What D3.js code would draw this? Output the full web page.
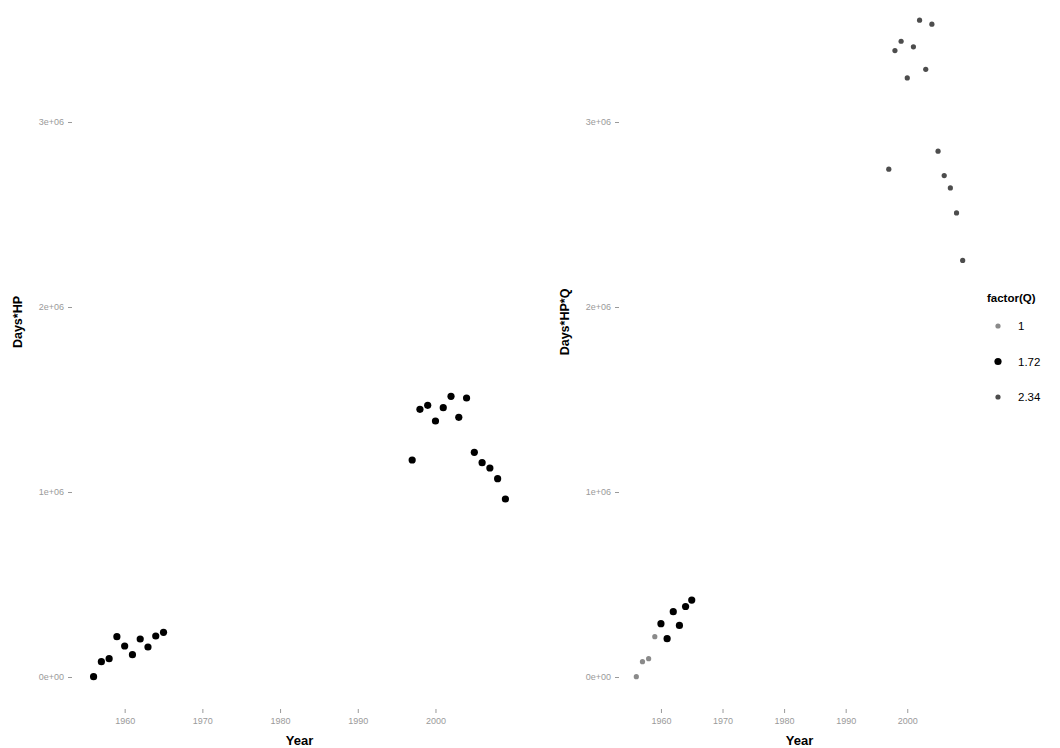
<!DOCTYPE html>
<html>
<head>
<meta charset="utf-8">
<script src="https://cdn.jsdelivr.net/npm/d3@7"></script>
<style>
  body { margin: 0; background: #fff; }
  svg { font-family: "Liberation Sans", Arial, sans-serif; }
  .axis text { fill: #9a9a9a; font-size: 9px; }
  .axis line { stroke: #9a9a9a; }
  .axis path { display: none; }
</style>
</head>
<body>
<svg id="viz" width="1060" height="748"></svg>
<script>
// data
var years = [1956, 1957, 1958, 1959, 1960, 1961, 1962, 1963, 1964, 1965,
             1997, 1998, 1999, 2000, 2001, 2002, 2003, 2004, 2005, 2006, 2007, 2008, 2009];
var daysHP = [2000, 82700, 98900, 217800, 167600, 120500, 205400, 162200, 221600, 241600,
              1173000, 1447000, 1468600, 1383800, 1455700, 1517300, 1403800, 1508100,
              1214600, 1158400, 1129700, 1071900, 962200];
var qValues = [1, 1, 1, 1, 1.72, 1.72, 1.72, 1.72, 1.72, 1.72,
               2.34, 2.34, 2.34, 2.34, 2.34, 2.34, 2.34, 2.34, 2.34, 2.34, 2.34, 2.34, 2.34];
var qLevels = ["1", "1.72", "2.34"];
var xTicks = [1960, 1970, 1980, 1990, 2000];
var yTicks = [0, 1e6, 2e6, 3e6];

var rows = years.map(function (yr, i) {
    return { year: yr, hp: daysHP[i], q: qValues[i], hpq: daysHP[i] * qValues[i] };
});

var svg = d3.select("#viz");

var y = d3.scaleLinear().domain([0, 3e6]).range([677, 122]);
var xPad = 2.65;
var xLeft = d3.scaleLinear().domain([1956 - xPad, 2009 + xPad]).range([73, 526]);
var xRight = d3.scaleLinear().domain([1956 - xPad, 2009 + xPad]).range([620, 979]);

function sci(d) {
    if (d === 0) return "0e+00";
    var e = Math.floor(Math.log10(d));
    var m = d / Math.pow(10, e);
    return (+m.toFixed(1)) + "e+" + (e < 10 ? "0" + e : e);
}

var qStyle = {
    "1":    { fill: "#8a8a8a", r: 2.6 },
    "1.72": { fill: "#000",    r: 3.6 },
    "2.34": { fill: "#4d4d4d", r: 2.6 }
};

function panel(x, valueKey, yTitle, colored) {
    var g = svg.append("g");

    g.append("g").attr("class", "axis")
        .attr("transform", "translate(" + (x.range()[0] - 1) + ",0)")
        .call(d3.axisLeft(y).tickValues(yTicks).tickFormat(sci).tickSize(4).tickPadding(4));

    g.append("g").attr("class", "axis")
        .attr("transform", "translate(0,709)")
        .call(d3.axisBottom(x).tickValues(xTicks).tickFormat(d3.format("d")).tickSize(4).tickPadding(5));

    g.selectAll(".pt")
        .data(rows)
        .enter().append("circle")
        .attr("class", "pt")
        .attr("cx", function (d) { return x(d.year); })
        .attr("cy", function (d) { return y(d[valueKey]); })
        .attr("r", function (d) { return colored ? qStyle[String(d.q)].r : 3.6; })
        .attr("fill", function (d) { return colored ? qStyle[String(d.q)].fill : "#000"; });

    var cx = (x.range()[0] + x.range()[1]) / 2;
    g.append("text")
        .attr("x", cx).attr("y", 745)
        .attr("text-anchor", "middle")
        .style("font-size", "13px").style("font-weight", "bold")
        .text("Year");

    var tx = x.range()[0] - 55;
    g.append("text")
        .attr("transform", "translate(" + tx + ",322) rotate(-90)")
        .attr("text-anchor", "middle")
        .attr("dy", "0.35em")
        .style("font-size", "12.5px").style("font-weight", "bold")
        .text(yTitle);
}

panel(xLeft, "hp", "Days*HP", false);
panel(xRight, "hpq", "Days*HP*Q", true);

// legend
var lg = svg.append("g").attr("transform", "translate(987,0)");
lg.append("text").attr("x", 0).attr("y", 302)
    .style("font-size", "11.5px").style("font-weight", "bold")
    .text("factor(Q)");
var item = lg.selectAll(".item").data(qLevels).enter().append("g")
    .attr("transform", function (d, i) { return "translate(0," + (326 + i * 35.5) + ")"; });
item.append("circle").attr("cx", 11).attr("cy", 0)
    .attr("r", function (d) { return qStyle[d].r; })
    .attr("fill", function (d) { return qStyle[d].fill; });
item.append("text").attr("x", 31).attr("y", 4)
    .style("font-size", "11.5px")
    .text(function (d) { return d; });
</script>
</body>
</html>
